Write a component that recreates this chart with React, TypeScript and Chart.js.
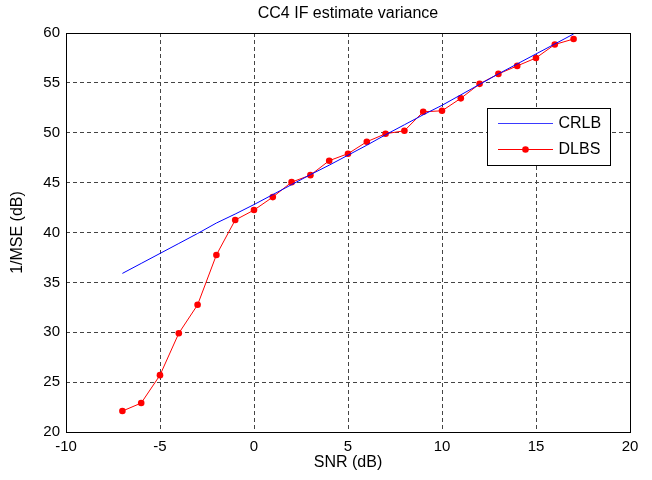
import React, { useEffect, useRef } from "react";
import { Chart, registerables } from "chart.js";

Chart.register(...registerables);

const snr = [-7, -6, -5, -4, -3, -2, -1, 0, 1, 2, 3, 4, 5, 6, 7, 8, 9, 10, 11, 12, 13, 14, 15, 16, 17];
const crlb = [35.9, 36.9, 37.9, 38.9, 39.9, 40.95, 41.85, 42.8, 43.8, 44.8, 45.8, 46.75, 47.75, 48.75, 49.8, 50.8, 51.8, 52.75, 53.8, 54.85, 55.9, 56.9, 57.9, 58.9, 59.9];
const dlbs = [22.1, 22.9, 25.7, 29.9, 32.75, 37.75, 41.25, 42.25, 43.55, 45.05, 45.75, 47.2, 47.9, 49.1, 49.9, 50.2, 52.1, 52.2, 53.45, 54.9, 55.9, 56.7, 57.5, 58.85, 59.4];

const titleText = "CC4 IF estimate variance";
const xLabel = "SNR (dB)";
const yLabel = "1/MSE (dB)";
const seriesNames = ["CRLB", "DLBS"];

const FONT = "'Liberation Sans', Arial, Helvetica, sans-serif";

const boxLegendPlugin = {
  id: "boxLegend",
  afterDraw(chart: any) {
    const { ctx, chartArea: a } = chart;
    ctx.save();
    // axes box
    ctx.strokeStyle = "#000";
    ctx.lineWidth = 1;
    ctx.setLineDash([]);
    const l = Math.round(a.left) + 0.5;
    const t = Math.round(a.top) + 0.5;
    const r = Math.round(a.right) + 0.5;
    const b = Math.round(a.bottom) + 0.5;
    ctx.strokeRect(l, t, r - l, b - t);

    // legend box
    const bx = Math.round(a.right) - 143 + 0.5;
    const by = Math.round(a.top) + 75 + 0.5;
    const bw = 123;
    const bh = 57;
    ctx.fillStyle = "#fff";
    ctx.fillRect(bx, by, bw, bh);
    ctx.strokeStyle = "#000";
    ctx.strokeRect(bx, by, bw, bh);

    const colors = ["#3a3aff", "#ff0000"];
    const rows = [by + 14.5, by + 40.5];
    const x0 = bx + 10.5;
    const x1 = bx + 65.5;
    for (let i = 0; i < 2; i++) {
      ctx.strokeStyle = colors[i];
      ctx.beginPath();
      ctx.moveTo(x0, Math.round(rows[i]) + 0.5);
      ctx.lineTo(x1, Math.round(rows[i]) + 0.5);
      ctx.stroke();
      if (i === 1) {
        ctx.fillStyle = colors[i];
        ctx.beginPath();
        ctx.arc((x0 + x1) / 2, Math.round(rows[i]) + 0.5, 3.3, 0, Math.PI * 2);
        ctx.fill();
      }
      ctx.fillStyle = "#000";
      ctx.font = "16px " + FONT;
      ctx.textBaseline = "middle";
      ctx.textAlign = "left";
      ctx.fillText(seriesNames[i], bx + 71, rows[i] + 1);
    }
    ctx.restore();
  },
};

export default function App() {
  const ref = useRef<HTMLCanvasElement | null>(null);
  useEffect(() => {
    if (!ref.current) return;
    const tickFont = { family: FONT, size: 15 };
    const chart = new Chart(ref.current, {
      type: "line",
      data: {
        datasets: [
          {
            label: seriesNames[0],
            data: snr.map((x, i) => ({ x, y: crlb[i] })),
            borderColor: "#0000ff",
            borderWidth: 1,
            pointRadius: 0,
            tension: 0,
            fill: false,
          },
          {
            label: seriesNames[1],
            data: snr.map((x, i) => ({ x, y: dlbs[i] })),
            borderColor: "#ff0000",
            backgroundColor: "#ff0000",
            borderWidth: 1,
            pointRadius: 3.3,
            pointBorderWidth: 0,
            pointBackgroundColor: "#ff0000",
            tension: 0,
            fill: false,
          },
        ],
      },
      options: {
        responsive: false,
        animation: false,
        devicePixelRatio: 1,
        layout: { padding: { top: 0, right: 22, left: 0, bottom: 0 } },
        plugins: {
          legend: { display: false },
          tooltip: { enabled: false },
          title: {
            display: true,
            text: titleText,
            color: "#000",
            fullSize: false,
            font: { family: FONT, size: 16, weight: "normal" },
            padding: { top: 4, bottom: 9.8 },
          },
        },
        scales: {
          x: {
            type: "linear",
            min: -10,
            max: 20,
            ticks: { stepSize: 5, color: "#000", font: tickFont, padding: 6, maxRotation: 0 },
            grid: { color: "#444", lineWidth: 1, drawTicks: false },
            border: { display: false, dash: [4, 3] },
            title: {
              display: true,
              text: xLabel,
              color: "#000",
              font: { family: FONT, size: 16 },
              padding: { top: 0, bottom: 8 },
            },
            afterFit: (s: any) => {
              s.height = 48;
            },
          },
          y: {
            type: "linear",
            min: 20,
            max: 60,
            ticks: { stepSize: 5, color: "#000", font: tickFont, padding: 6 },
            grid: { color: "#444", lineWidth: 1, drawTicks: false },
            border: { display: false, dash: [4, 3] },
            title: {
              display: true,
              text: yLabel,
              color: "#000",
              font: { family: FONT, size: 16 },
              padding: { top: 8, bottom: 0 },
            },
            afterFit: (s: any) => {
              s.width = 66;
            },
          },
        },
      },
      plugins: [boxLegendPlugin],
    } as any);
    return () => chart.destroy();
  }, []);
  return (
    <div style={{ position: "fixed", left: 0, top: 0, width: 652, height: 480, background: "#fff" }}>
      <canvas ref={ref} width={652} height={480} style={{ width: 652, height: 480, display: "block" }} />
    </div>
  );
}
